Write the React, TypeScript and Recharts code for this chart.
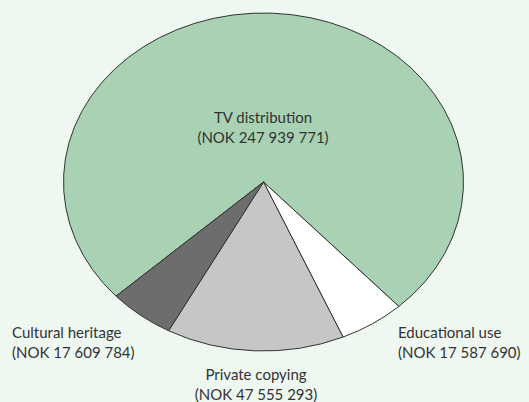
import { PieChart, Pie, Cell } from "recharts"

// Royalty distribution (NOK)
const names = ["TV distribution", "Educational use", "Private copying", "Cultural heritage"]
const amounts = [247939771, 17587690, 47555293, 17609784]
const amountLabels = ["NOK 247 939 771", "NOK 17 587 690", "NOK 47 555 293", "NOK 17 609 784"]

const colors = ["#a8d2b3", "#ffffff", "#c6c6c6", "#6d6d6d"]

const data = names.map((name, i) => ({ name, value: amounts[i], amount: amountLabels[i] }))

const Y_RATIO = 0.845
const RAD = Math.PI / 180

// label placement (x, anchor, y of first line)
const labelLayout: Record<string, { x: number; y: number; anchor: "start" | "middle" | "end" }> = {
  "TV distribution": { x: 263, y: 117, anchor: "middle" },
  "Educational use": { x: 398, y: 332, anchor: "start" },
  "Private copying": { x: 256, y: 374, anchor: "middle" },
  "Cultural heritage": { x: 12, y: 332, anchor: "start" },
}

const EllipseSector = (props: any) => {
  const { cx, cy, outerRadius, startAngle, endAngle, fill } = props
  const rx = outerRadius
  const ry = outerRadius * Y_RATIO
  const pt = (a: number) => [cx + rx * Math.cos(-a * RAD), cy + ry * Math.sin(-a * RAD)]
  const [x1, y1] = pt(startAngle)
  const [x2, y2] = pt(endAngle)
  const large = Math.abs(endAngle - startAngle) > 180 ? 1 : 0
  const sweep = endAngle < startAngle ? 1 : 0
  const d = `M${cx},${cy} L${x1},${y1} A${rx},${ry} 0 ${large} ${sweep} ${x2},${y2} Z`
  return <path d={d} fill={fill} stroke="#333333" strokeWidth={1} strokeLinejoin="round" />
}

const renderLabel = (props: any) => {
  const l = labelLayout[props.name]
  if (!l) return null
  return (
    <g>
      <text x={l.x} y={l.y} textAnchor={l.anchor} dominantBaseline="central" fill="#333333" fontSize={15}>
        {props.name}
      </text>
      <text x={l.x} y={l.y + 20} textAnchor={l.anchor} dominantBaseline="central" fill="#333333" fontSize={15}>
        ({props.payload.amount})
      </text>
    </g>
  )
}

export default function App() {
  return (
    <div
      style={{
        position: "absolute",
        left: 0,
        top: 0,
        width: 529,
        height: 402,
        background: "#eef7f0",
        fontFamily: "Lato, sans-serif",
      }}
    >
      <PieChart width={529} height={402} margin={{ top: 0, right: 0, bottom: 0, left: 0 }}>
        <Pie
          data={data}
          dataKey="value"
          nameKey="name"
          cx={263.5}
          cy={182}
          outerRadius={200}
          startAngle={222.5}
          endAngle={-137.5}
          shape={EllipseSector}
          label={renderLabel}
          labelLine={false}
          isAnimationActive={false}
        >
          {data.map((d, i) => (
            <Cell key={d.name} fill={colors[i]} />
          ))}
        </Pie>
      </PieChart>
    </div>
  )
}
